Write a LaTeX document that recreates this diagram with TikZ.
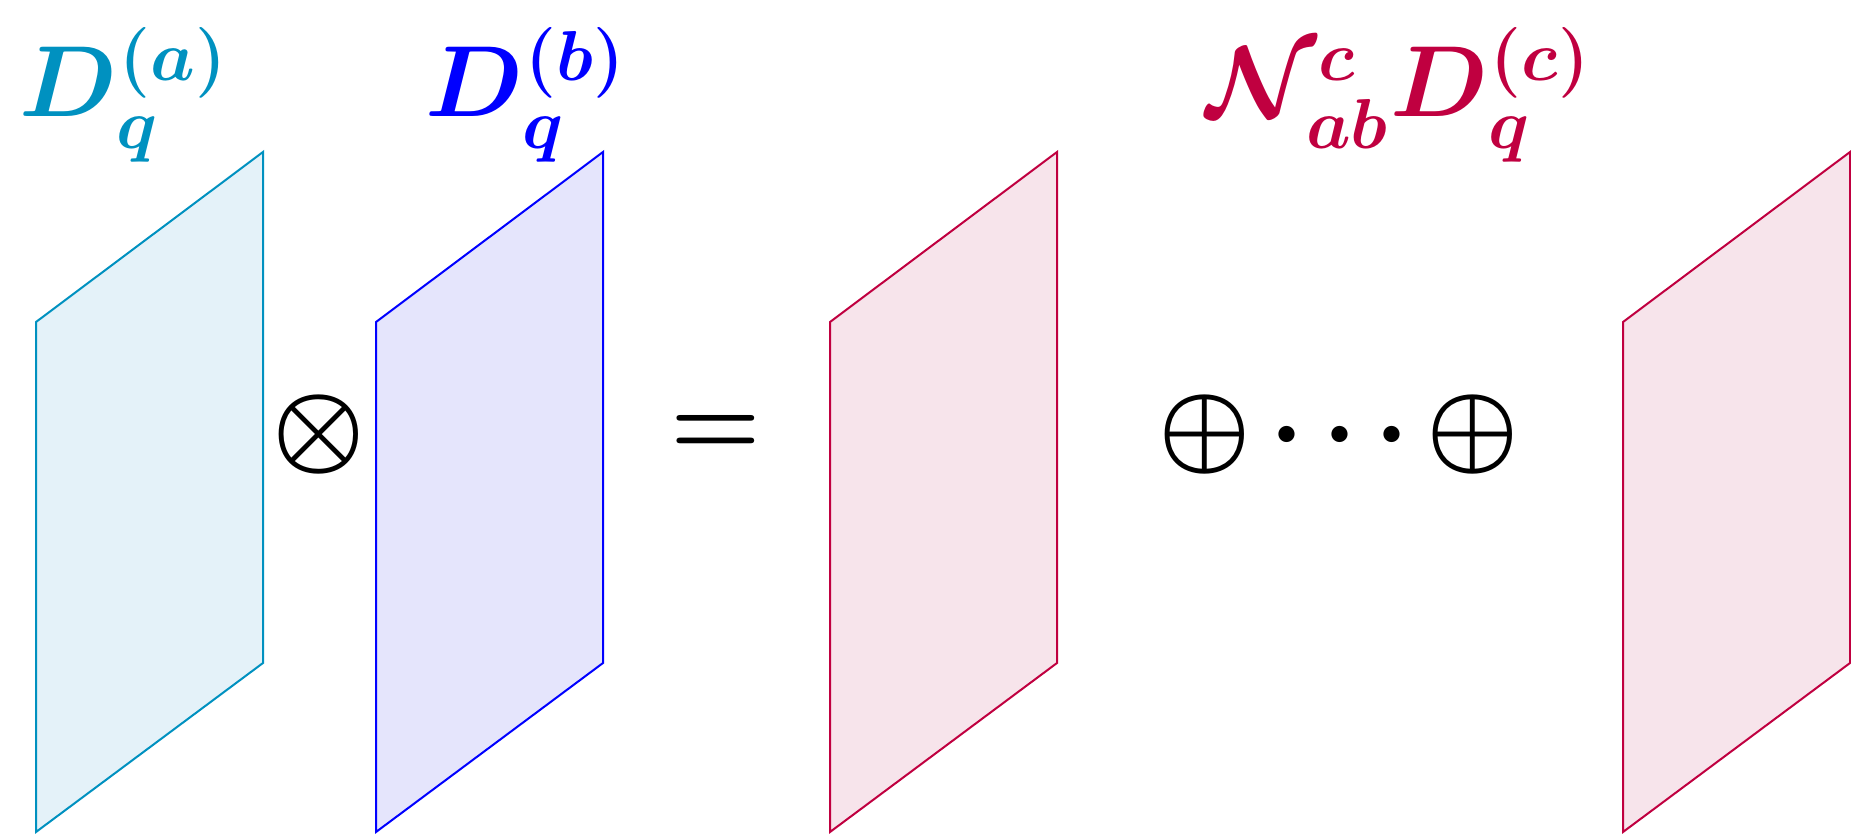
\RequirePackage{fix-cm}
\documentclass[tikz,border=0pt]{standalone}
\usepackage{amsmath,bm}
\definecolor{cA}{RGB}{0,145,192}
\definecolor{fA}{RGB}{228,242,249}
\definecolor{cB}{RGB}{0,0,255}
\definecolor{fB}{RGB}{229,229,252}
\definecolor{cC}{RGB}{192,0,64}
\definecolor{fC}{RGB}{247,228,235}
\tikzset{
  lbl/.style={anchor=base west,inner sep=0pt,font=\fontsize{20.2}{24}\selectfont},
  op/.style={anchor=base,inner sep=0pt,font=\fontsize{20.74}{25}\selectfont},
  panel/.style={line width=0.4pt,line join=miter}
}
% nucleus with manually placed scripts: [#1 sub kern] #2 nucleus, #3 sup, #4 sub
\newcommand{\scr}[4][-0.55pt]{$\boldsymbol{#2}$\kern0.5pt\rlap{\raisebox{7.2pt}{$\scriptstyle\boldsymbol{#3}$}}\kern#1\raisebox{-6.4pt}{$\scriptstyle\boldsymbol{#4}$}\kern0.5pt}
\newcommand{\panelat}[4]{%
  \filldraw[panel,draw=#2,fill=#3] (#1,322) -- (#1+227,152) -- (#1+227,663) -- (#1,832) -- cycle;
  \coordinate (#4) at (#1+113.5,492);}
\begin{document}
\begin{tikzpicture}[x=0.2pt,y=-0.2pt]
\useasboundingbox (0,0) rectangle (1851,837);
\panelat{36}{cA}{fA}{pa}
\panelat{376}{cB}{fB}{pb}
\panelat{830}{cC}{fC}{pc}
\panelat{1623}{cC}{fC}{pd}
\node[lbl,text=cA] (la) at (18,117) {\scr{D}{(a)}{q}};
\node[lbl,text=cB] (lb) at (424,117) {\scr{D}{(b)}{q}};
\node[lbl,text=cC] (lc) at (1205,117) {\scr[-2.45pt]{\mathcal{N}}{c}{ab}\scr{D}{(c)}{q}};
\node[op] (otimes) at (319,461) {$\boldsymbol{\otimes}$};
\node[op] (eq) at (716,456) {$\boldsymbol{=}$};
\node[op] (op1) at (1205,461) {$\boldsymbol{\oplus}$};
\node[op] (d1) at (1287,461) {$\boldsymbol{\cdot}$};
\node[op] (d2) at (1340,461) {$\boldsymbol{\cdot}$};
\node[op] (d3) at (1392,461) {$\boldsymbol{\cdot}$};
\node[op] (op2) at (1473,461) {$\boldsymbol{\oplus}$};
\end{tikzpicture}
\end{document}
